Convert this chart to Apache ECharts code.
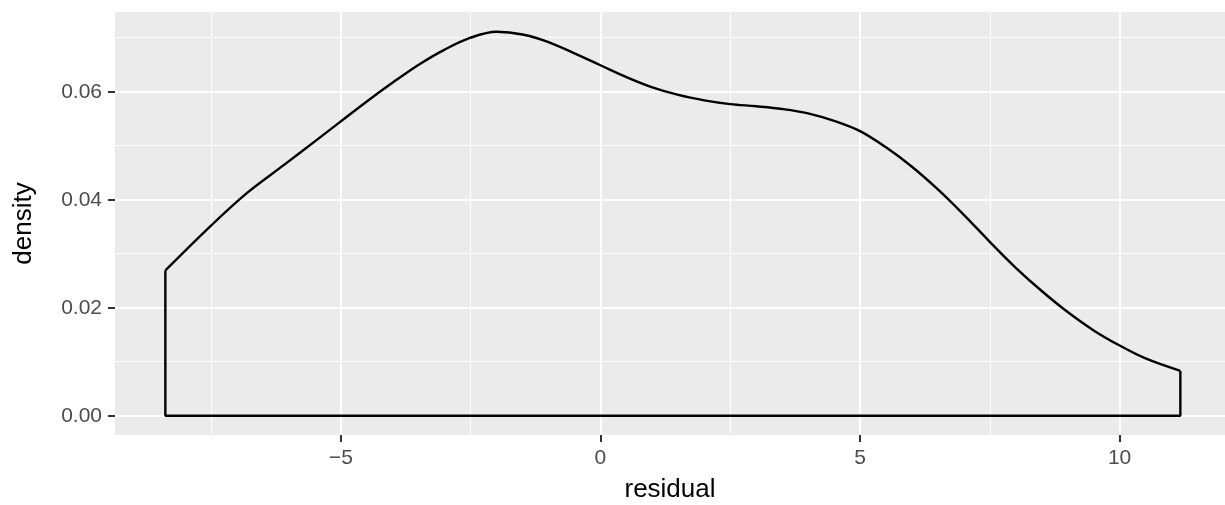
<!DOCTYPE html>
<html>
<head>
<meta charset="utf-8">
<style>
  html, body { margin: 0; padding: 0; background: #fff; }
  #main { width: 1225px; height: 505px; }
</style>
<script src="https://cdn.jsdelivr.net/npm/echarts@6/dist/echarts.min.js"></script>
</head>
<body>
<div id="main"></div>
<script>
// residual values and density
var residual = [-8.38, -7.5, -6.8, -6.1, -5.5, -5.0, -4.5, -4.0, -3.5, -3.0, -2.5, -2.0, -1.5, -1.0, -0.5,
  0, 0.5, 1.0, 1.5, 2.0, 2.5, 3.0, 3.5, 4.0, 4.5, 5.0, 5.5, 6.0, 6.5, 7.0, 7.5, 8.0, 8.5, 9.0, 9.5, 10.0, 10.5, 11.17];
var density = [0.0269, 0.0352, 0.0413, 0.0464, 0.0508, 0.0545, 0.0582, 0.0617, 0.0650, 0.0678, 0.0700, 0.0711, 0.0706, 0.0692, 0.0671,
  0.0649, 0.0627, 0.0608, 0.0594, 0.0584, 0.0577, 0.0573, 0.0568, 0.0560, 0.0546, 0.0527, 0.0497, 0.0461, 0.0419, 0.0372, 0.0322, 0.0274, 0.0231, 0.0192, 0.0158, 0.0130, 0.0106, 0.0083];

var xTicks = [-5, 0, 5, 10];
var yTicks = [0, 0.02, 0.04, 0.06];

var myChart = echarts.init(document.getElementById('main'));

var curve = residual.map(function(x, i) { return [x, density[i]]; });
var last = residual.length - 1;
// bottom and side edges of the density outline
var edges = [
  [residual[0], density[0]],
  [residual[0], 0],
  [residual[last], 0],
  [residual[last], density[last]]
];

var tickStyle = { color: '#333333', width: 2 };
var labelStyle = { color: '#4D4D4D', fontSize: 21, fontFamily: 'Liberation Sans' };
var titleStyle = { color: '#000', fontSize: 26, fontFamily: 'Liberation Sans' };

var option = {
  animation: false,
  grid: {
    left: 115, right: 0, top: 12, bottom: 70,
    show: true, backgroundColor: '#EBEBEB', borderWidth: 0,
    containLabel: false, outerBoundsMode: 'none'
  },
  xAxis: {
    type: 'value',
    min: -9.35, max: 12.03,
    name: 'residual',
    nameLocation: 'middle',
    nameGap: 42,
    nameTextStyle: titleStyle,
    axisLine: { show: false, onZero: false },
    axisTick: { show: true, length: 7, lineStyle: tickStyle, customValues: xTicks },
    axisLabel: Object.assign({ margin: 13, customValues: xTicks,
      formatter: function(v) { return v < 0 ? '\u2212' + (-v) : String(v); } }, labelStyle),
    splitLine: { show: true, lineStyle: { color: '#FFFFFF', width: 2 } },
    minorTick: { show: false, splitNumber: 2 },
    minorSplitLine: { show: true, lineStyle: { color: '#FFFFFF', width: 1 } }
  },
  yAxis: {
    type: 'value',
    min: -0.00357, max: 0.07476,
    name: 'density',
    nameLocation: 'middle',
    nameGap: 78,
    nameRotate: 90,
    nameTextStyle: titleStyle,
    axisLine: { show: false, onZero: false },
    axisTick: { show: true, length: 7, lineStyle: tickStyle, customValues: yTicks },
    axisLabel: Object.assign({ margin: 13, customValues: yTicks,
      formatter: function(v) { return v.toFixed(2); } }, labelStyle),
    splitLine: { show: true, lineStyle: { color: '#FFFFFF', width: 2 } },
    minorTick: { show: false, splitNumber: 2 },
    minorSplitLine: { show: true, lineStyle: { color: '#FFFFFF', width: 1 } }
  },
  series: [{
    type: 'line',
    data: curve,
    smooth: 0.35,
    showSymbol: false,
    silent: true,
    lineStyle: { color: '#000', width: 2.4 }
  }, {
    type: 'line',
    data: edges,
    smooth: false,
    showSymbol: false,
    silent: true,
    lineStyle: { color: '#000', width: 2.4 }
  }]
};

myChart.setOption(option);
</script>
</body>
</html>
